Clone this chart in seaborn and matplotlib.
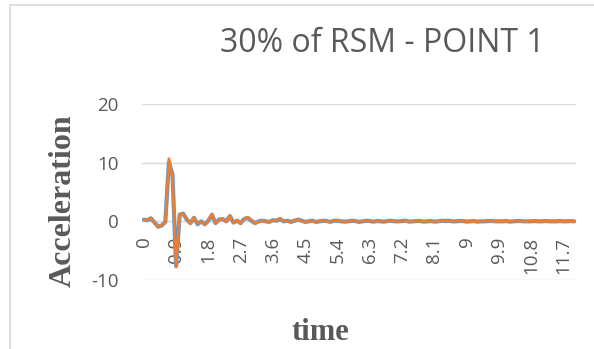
import numpy as np
import pandas as pd
import matplotlib
matplotlib.use("Agg")
import matplotlib.pyplot as plt
from matplotlib.patches import Rectangle
import seaborn as sns

# Time categories (s) and the two recorded acceleration traces
time = np.round(np.arange(0, 12.05, 0.1), 1)

accel_orange = [
    0.2, 0.3, 0.6, -0.3, -1.0, -0.6, -0.2, 10.7, 7.6, -7.8,
    1.3, 1.2, 0.4, -0.4, 0.7, -0.4, -0.1, -0.6, 0.2, 1.3,
    -0.4, 0.2, 0.5, -0.1, 1.0, -0.3, 0.2, -0.4, 0.5, 0.7,
    0.2, -0.4, -0.1, 0.0, 0.1, -0.1, 0.1, 0.2, 0.45, 0.1,
    0.0, -0.1, 0.2, 0.3, 0.0, -0.1, 0.1, 0.0, -0.1, 0.1,
    0.15, 0.0, -0.1, 0.1, 0.2, 0.0, -0.1, 0.0, 0.1, 0.0,
    -0.1, 0.05, 0.15, 0.0, -0.05, 0.1, 0.0, -0.1, 0.0, 0.1,
    0.0, -0.05, 0.1, 0.05, -0.1, 0.0, 0.1, 0.0, -0.05, 0.05,
    0.0, -0.1, 0.05, 0.1, 0.0, 0.15, -0.05, 0.0, 0.1, 0.0,
    -0.05, 0.05, 0.0, -0.1, 0.0, 0.05, 0.1, 0.0, -0.05, 0.0,
    0.05, 0.0, -0.05, 0.05, 0.1, 0.0, -0.05, 0.0, 0.05, 0.0,
    0.0, 0.05, 0.0, -0.05, 0.0, 0.05, 0.0, 0.0, 0.05, 0.0,
    0.0,
]

accel_blue = [
    0.3, 0.2, 0.5, -0.2, -0.9, -0.7, -0.1, 10.1, 8.0, -7.6,
    1.1, 1.3, 0.3, -0.3, 0.6, -0.5, 0.0, -0.5, 0.1, 1.1,
    -0.3, 0.3, 0.4, 0.0, 0.9, -0.2, 0.1, -0.3, 0.4, 0.6,
    0.1, -0.3, 0.0, 0.1, 0.0, -0.1, 0.2, 0.1, 0.4, 0.0,
    0.1, -0.1, 0.1, 0.3, 0.1, -0.1, 0.0, 0.1, -0.1, 0.0,
    0.1, 0.05, -0.1, 0.1, 0.1, 0.0, -0.05, 0.0, 0.1, 0.05,
    -0.1, 0.0, 0.1, 0.05, -0.05, 0.05, 0.0, -0.05, 0.05, 0.1,
    0.0, 0.0, 0.05, 0.1, -0.05, 0.0, 0.05, 0.05, -0.05, 0.0,
    0.05, -0.05, 0.0, 0.1, 0.05, 0.1, 0.0, 0.0, 0.05, 0.05,
    -0.05, 0.0, 0.05, -0.05, 0.0, 0.0, 0.05, 0.05, 0.0, 0.0,
    0.0, 0.05, -0.05, 0.0, 0.05, 0.05, 0.0, 0.0, 0.0, 0.05,
    0.0, 0.0, 0.05, 0.0, 0.0, 0.0, 0.05, 0.0, 0.0, 0.05,
    0.0,
]

y_ticks = [-10, 0, 10, 20]
label_step = 9

df = pd.DataFrame({
    "pos": np.arange(len(time)),
    "blue": accel_blue,
    "orange": accel_orange,
})

sns.set_theme(style="white")
plt.rcParams["font.family"] = ["Open Sans", "DejaVu Sans"]

grey = "#595959"
fig = plt.figure(figsize=(5.94, 3.49), dpi=100)
ax = fig.add_axes([142 / 594, 1 - 280 / 349, (576 - 142) / 594, (280 - 104) / 349])

# chart-area border
fig.patches.append(Rectangle((10 / 594, -0.1), 1.2, 1 - 5 / 349 + 0.1,
                             transform=fig.transFigure, fill=False,
                             edgecolor="#D9D9D9", linewidth=1.2, zorder=0))

sns.lineplot(data=df, x="pos", y="blue", ax=ax, color="#5B9BD5", linewidth=3.0, zorder=3)
sns.lineplot(data=df, x="pos", y="orange", ax=ax, color="#ED7D31", linewidth=1.9, zorder=4)

ax.set_xlim(-0.5, len(time) - 0.5)
ax.set_ylim(-10, 20)
ax.set_yticks(y_ticks)
ax.set_yticklabels([str(v) for v in y_ticks])
ax.yaxis.grid(True, color="#D9D9D9", linewidth=1.0)
ax.xaxis.grid(False)
for s in ax.spines.values():
    s.set_visible(False)
ax.spines["bottom"].set_position(("data", 0))

tick_pos = list(range(0, len(time), label_step))
ax.set_xticks(tick_pos)
ax.set_xticklabels([f"{time[i]:g}" for i in tick_pos], rotation=90, va="top", ha="center")
ax.tick_params(axis="x", length=0, pad=11, labelsize=13.5, labelcolor=grey)
ax.tick_params(axis="y", length=0, pad=17, labelsize=13.5, labelcolor=grey)

ax.set_xlabel("")
ax.set_ylabel("")
fig.text(63 / 594, 1 - 201 / 349, "Acceleration", rotation=90, ha="center", va="center",
         fontsize=23, fontweight="bold", family=["Liberation Serif"], color=grey)
fig.text(320 / 594, 1 - 333 / 349, "time", ha="center", va="center",
         fontsize=22, fontweight="bold", family=["Liberation Serif"], color=grey)
fig.text(382 / 594, 1 - 44 / 349, "30% of RSM - POINT 1", ha="center", va="center",
         fontsize=23, color=grey)

fig.savefig("out.png", dpi=100)
